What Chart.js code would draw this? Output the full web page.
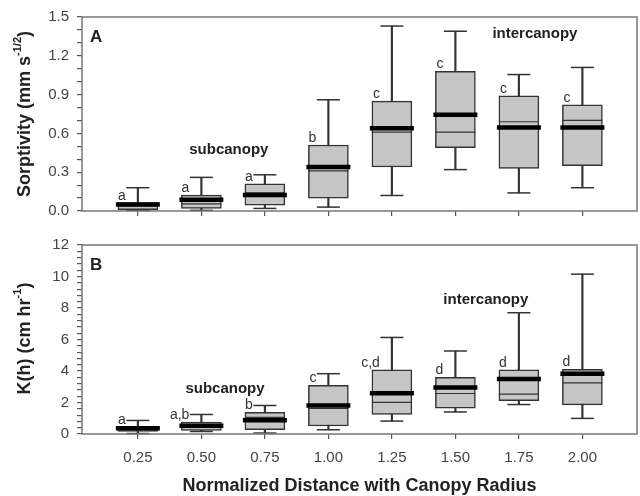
<!DOCTYPE html>
<html>
<head>
<meta charset="utf-8">
<script src="https://cdn.jsdelivr.net/npm/chart.js@4.4.1/dist/chart.umd.min.js"></script>
<style>
  body { margin: 0; background: #fff; }
  #wrap { position: relative; width: 640px; height: 496px; }
  canvas { position: absolute; left: 0; }
  #cA { top: 0; }
  #cB { top: 228px; }
</style>
</head>
<body>
<div id="wrap">
  <canvas id="cA" width="640" height="228"></canvas>
  <canvas id="cB" width="640" height="268"></canvas>
</div>
<script>
// normalized distance (x categories)
var cats = [0.25, 0.50, 0.75, 1.00, 1.25, 1.50, 1.75, 2.00];

// Panel A: sorptivity (mm s^-1/2)
var sLow  = [0.005, 0.005, 0.02, 0.03, 0.12, 0.32, 0.14, 0.18];
var sQ1   = [0.01, 0.02, 0.046, 0.10, 0.34, 0.49, 0.33, 0.35];
var sMed  = [0.04, 0.055, 0.14, 0.31, 0.61, 0.61, 0.69, 0.70];
var sMean = [0.05, 0.087, 0.123, 0.34, 0.64, 0.745, 0.646, 0.646];
var sQ3   = [0.065, 0.123, 0.21, 0.51, 0.85, 1.08, 0.89, 0.82];
var sHigh = [0.18, 0.26, 0.28, 0.86, 1.43, 1.39, 1.055, 1.11];
var sLetters = ['a', 'a', 'a', 'b', 'c', 'c', 'c', 'c'];

// Panel B: K(h) (cm hr^-1)
var kLow  = [0.03, 0.16, 0.06, 0.27, 0.82, 1.40, 1.87, 0.99];
var kQ1   = [0.16, 0.22, 0.27, 0.51, 1.24, 1.64, 2.12, 1.85];
var kMed  = [0.28, 0.45, 1.05, 1.62, 2.01, 2.57, 2.53, 3.25];
var kMean = [0.37, 0.53, 0.88, 1.81, 2.59, 2.96, 3.50, 3.83];
var kQ3   = [0.47, 0.76, 1.38, 3.09, 4.08, 3.60, 4.08, 4.11];
var kHigh = [0.86, 1.24, 1.81, 3.83, 6.13, 5.27, 7.70, 10.15];
var kLetters = ['a', 'a,b', 'b', 'c', 'c,d', 'd', 'd', 'd'];

var FONT = "'Liberation Sans', Arial, sans-serif";

function pts(arr) {
  return cats.map(function (c, i) { return { x: c, y: arr[i] }; });
}
function ranges(lo, hi) {
  return cats.map(function (c, i) { return { x: c, y: [lo[i], hi[i]] }; });
}

function buildDatasets(lo, q1, med, mean, q3, hi) {
  var caps = pts(lo).concat(pts(hi));
  return [
    { type: 'bar', data: ranges(lo, hi), barThickness: 1.5, backgroundColor: '#333', grouped: false, order: 6 },
    { type: 'bar', data: ranges(q1, q3), barThickness: 40, backgroundColor: '#c6c6c6', borderColor: '#333', borderWidth: 1.5, borderSkipped: false, grouped: false, order: 5 },
    { type: 'scatter', data: pts(med), pointStyle: 'line', radius: 20, borderWidth: 1.2, borderColor: '#333', order: 4 },
    { type: 'scatter', data: pts(mean), pointStyle: 'line', radius: 22, borderWidth: 4.5, borderColor: '#000', order: 3 },
    { type: 'scatter', data: caps, pointStyle: 'line', radius: 11.5, borderWidth: 1.5, borderColor: '#333', order: 2, clip: false }
  ];
}

// frame, y title, letters and notes
var decor = {
  id: 'decor',
  afterDraw: function (chart) {
    var o = chart.options.plugins.decor;
    var ctx = chart.ctx, a = chart.chartArea;
    var xs = chart.scales.x, ys = chart.scales.y;
    ctx.save();
    ctx.strokeStyle = '#777';
    ctx.lineWidth = 1.5;
    ctx.strokeRect(a.left, a.top, a.right - a.left, a.bottom - a.top);

    ctx.fillStyle = '#333';
    ctx.font = '14px ' + FONT;
    ctx.textAlign = 'right';
    ctx.textBaseline = 'alphabetic';
    o.letters.forEach(function (t, i) {
      var px = xs.getPixelForValue(cats[i]) - 20 + 8;
      ctx.fillText(t, px, ys.getPixelForValue(o.q3[i]) - 3);
    });

    ctx.fillStyle = '#222';
    ctx.textAlign = 'left';
    ctx.textBaseline = 'middle';
    ctx.font = 'bold 17px ' + FONT;
    ctx.fillText(o.panel, a.left + 8, a.top + 20);

    ctx.textAlign = 'center';
    ctx.font = 'bold 15px ' + FONT;
    o.notes.forEach(function (n) {
      ctx.fillText(n.text, xs.getPixelForValue(n.x), ys.getPixelForValue(n.y));
    });

    // rotated y title with superscript
    ctx.translate(25, (a.top + a.bottom) / 2 + o.titleShift);
    ctx.rotate(-Math.PI / 2);
    ctx.textAlign = 'left';
    ctx.textBaseline = 'middle';
    var big = 'bold 18px ' + FONT, small = 'bold 11px ' + FONT;
    ctx.font = big; var w1 = ctx.measureText(o.title[0]).width; var w3 = ctx.measureText(')').width;
    ctx.font = small; var w2 = ctx.measureText(o.title[1]).width;
    var x0 = -(w1 + w2 + w3) / 2;
    ctx.font = big; ctx.fillText(o.title[0], x0, 0);
    ctx.font = small; ctx.fillText(o.title[1], x0 + w1, -7);
    ctx.font = big; ctx.fillText(')', x0 + w1 + w2, 0);

    if (o.xTitle) {
      ctx.setTransform(1, 0, 0, 1, 0, 0);
      ctx.font = 'bold 18px ' + FONT;
      ctx.textAlign = 'center';
      ctx.fillText(o.xTitle, (a.left + a.right) / 2, chart.height - 10);
    }
    ctx.restore();
  }
};

function makeChart(id, cfg) {
  return new Chart(document.getElementById(id), {
    type: 'bar',
    data: { datasets: buildDatasets(cfg.lo, cfg.q1, cfg.med, cfg.mean, cfg.q3, cfg.hi) },
    options: {
      responsive: false,
      animation: false,
      events: [],
      layout: { padding: cfg.padding, autoPadding: false },
      plugins: {
        legend: { display: false },
        tooltip: { enabled: false },
        decor: cfg.decor
      },
      scales: {
        x: {
          type: 'linear',
          offset: false,
          min: 0.03, max: 2.215,
          afterBuildTicks: function (s) { s.ticks = cats.map(function (v) { return { value: v }; }); },
          afterFit: function (s) { s.height = cfg.xHeight; s.paddingLeft = 0; s.paddingRight = 0; },
          grid: { offset: false, drawOnChartArea: false, drawTicks: true, tickLength: 5, color: '#555', lineWidth: 1.2 },
          border: { display: false },
          ticks: {
            padding: 10,
            color: '#444',
            font: { family: FONT, size: 15 },
            maxRotation: 0,
            autoSkip: false,
            callback: function (v) { return cfg.showX ? v.toFixed(2) : ''; }
          }
        },
        y: {
          min: 0, max: cfg.ymax,
          afterBuildTicks: function (s) {
            var t = [];
            for (var v = 0; v <= cfg.ymax + 1e-9; v += cfg.minor) t.push({ value: +v.toFixed(4) });
            s.ticks = t;
          },
          afterFit: function (s) { s.width = 82; },
          grid: { drawOnChartArea: false, drawTicks: true, tickLength: 5, color: '#555', lineWidth: 1.2 },
          border: { display: false },
          ticks: {
            padding: 8,
            color: '#444',
            font: { family: FONT, size: 15 },
            autoSkip: false,
            callback: function (v) {
              var r = v / cfg.major;
              return Math.abs(r - Math.round(r)) < 1e-6 ? v.toFixed(cfg.dec) : '';
            }
          }
        }
      }
    },
    plugins: [decor]
  });
}

makeChart('cA', {
  lo: sLow, q1: sQ1, med: sMed, mean: sMean, q3: sQ3, hi: sHigh,
  ymax: 1.5, major: 0.3, minor: 0.1, dec: 1,
  padding: { top: 17, right: 3, left: 0, bottom: 0 },
  xHeight: 16, showX: false,
  decor: {
    panel: 'A', letters: sLetters, q3: sQ3,
    notes: [{ text: 'subcanopy', x: 0.608, y: 0.47 }, { text: 'intercanopy', x: 1.813, y: 1.37 }],
    title: ['Sorptivity (mm s', '-1/2'], titleShift: 0
  }
});

makeChart('cB', {
  lo: kLow, q1: kQ1, med: kMed, mean: kMean, q3: kQ3, hi: kHigh,
  ymax: 12, major: 2, minor: 0.4, dec: 0,
  padding: { top: 12, right: 3, left: 0, bottom: 0 },
  xHeight: 62, showX: true,
  decor: {
    panel: 'B', letters: kLetters, q3: kQ3,
    notes: [{ text: 'subcanopy', x: 0.593, y: 2.86 }, { text: 'intercanopy', x: 1.62, y: 8.54 }],
    title: ['K(h) (cm hr', '-1'], titleShift: -1,
    xTitle: 'Normalized Distance with Canopy Radius'
  }
});
</script>
</body>
</html>
